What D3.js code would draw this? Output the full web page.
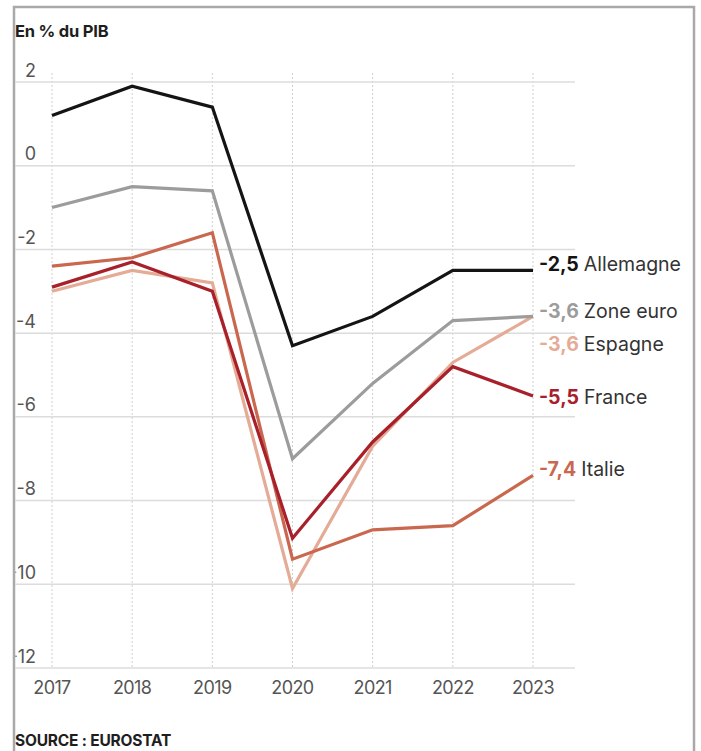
<!DOCTYPE html>
<html lang="fr">
<head>
<meta charset="utf-8">
<script src="https://cdn.jsdelivr.net/npm/d3@7"></script>
<style>
  html, body { margin: 0; padding: 0; background: #fff; }
  svg { display: block; font-family: Inter, Roboto, "Noto Sans", sans-serif; }
</style>
</head>
<body>
<svg id="chart" width="701" height="751"></svg>
<script>
// Solde public, en % du PIB (Eurostat)
const years = [2017, 2018, 2019, 2020, 2021, 2022, 2023];
const yTicks = [2, 0, -2, -4, -6, -8, -10, -12];

const allemagne = [1.2, 1.9, 1.4, -4.3, -3.6, -2.5, -2.5];
const zoneEuro  = [-1.0, -0.5, -0.6, -7.0, -5.2, -3.7, -3.6];
const espagne   = [-3.0, -2.5, -2.8, -10.1, -6.7, -4.7, -3.6];
const italie    = [-2.4, -2.2, -1.6, -9.4, -8.7, -8.6, -7.4];
const france    = [-2.9, -2.3, -3.0, -8.9, -6.6, -4.8, -5.5];

const seriesNames = ["Espagne", "Zone euro", "Italie", "France", "Allemagne"];
const seriesValues = [espagne, zoneEuro, italie, france, allemagne];

const colors = {
  "Allemagne": "#141414",
  "Zone euro": "#9c9c9c",
  "Espagne": "#e4ab96",
  "France": "#a8202a",
  "Italie": "#c9674f"
};

const svg = d3.select("#chart");

const x = d3.scaleLinear().domain([2017, 2023]).range([52, 533]);
const y = d3.scaleLinear().domain([-12, 2]).range([668, 82]);

// Frame
svg.append("rect")
  .attr("x", 14).attr("y", 7)
  .attr("width", 680).attr("height", 800)
  .attr("fill", "none")
  .attr("stroke", "#a9a9a9")
  .attr("stroke-width", 2.5);

svg.append("clipPath").attr("id", "inside")
  .append("rect").attr("x", 15.5).attr("y", 8).attr("width", 677).attr("height", 760);

// Title
svg.append("text")
  .attr("x", 15).attr("y", 37)
  .attr("font-size", 16.5).attr("font-weight", 700)
  .attr("fill", "#1e1e1e").attr("letter-spacing", -0.2)
  .text("En % du PIB");

const grid = svg.append("g");

// Vertical dotted gridlines
grid.selectAll("line.v").data(years).join("line")
  .attr("class", "v")
  .attr("x1", d => x(d)).attr("x2", d => x(d))
  .attr("y1", 73).attr("y2", y(-12))
  .attr("stroke", "#cfcfcf").attr("stroke-width", 1)
  .attr("stroke-dasharray", "2,2");

// Horizontal gridlines
grid.selectAll("line.h").data(yTicks).join("line")
  .attr("class", "h")
  .attr("x1", 15).attr("x2", 575)
  .attr("y1", d => y(d)).attr("y2", d => y(d))
  .attr("stroke", "#dcdcdc").attr("stroke-width", 1.5);

// Y tick labels, sitting above their gridline
svg.append("g").attr("clip-path", "url(#inside)")
  .selectAll("text").data(yTicks).join("text")
  .attr("x", 36).attr("y", d => y(d) - 5.5)
  .attr("text-anchor", "end")
  .attr("font-size", 18).attr("fill", "#555")
  .text(d => String(d));

// X tick labels
svg.append("g").selectAll("text").data(years).join("text")
  .attr("x", d => x(d)).attr("y", 694)
  .attr("text-anchor", "middle")
  .attr("font-size", 18).attr("fill", "#555")
  .attr("letter-spacing", -0.6)
  .text(d => d);

// Lines
const line = d3.line()
  .x((d, i) => x(years[i]))
  .y(d => y(d));

svg.append("g").selectAll("path").data(seriesNames).join("path")
  .attr("d", (name, i) => line(seriesValues[i]))
  .attr("fill", "none")
  .attr("stroke", name => colors[name])
  .attr("stroke-width", 3.2)
  .attr("stroke-linejoin", "miter");

// End labels: value then country name
const fmt = v => String(v).replace(".", ",");
const labelShift = { "Allemagne": 1, "Zone euro": 1.5, "Espagne": 35, "France": 8.5, "Italie": 0.7 };

const labels = svg.append("g").selectAll("text").data(seriesNames).join("text")
  .attr("x", 539)
  .attr("y", (name, i) => y(seriesValues[i][years.length - 1]) + labelShift[name])
  .attr("font-size", 19.5);

labels.append("tspan")
  .attr("font-weight", 700)
  .attr("fill", name => colors[name])
  .text((name, i) => fmt(seriesValues[i][years.length - 1]));

labels.append("tspan")
  .attr("dx", 5)
  .attr("fill", "#333")
  .text(name => name);

// Source
svg.append("text")
  .attr("x", 15).attr("y", 746)
  .attr("font-size", 15.5).attr("font-weight", 700)
  .attr("fill", "#1e1e1e").attr("letter-spacing", -0.2)
  .text("SOURCE : EUROSTAT");
</script>
</body>
</html>
